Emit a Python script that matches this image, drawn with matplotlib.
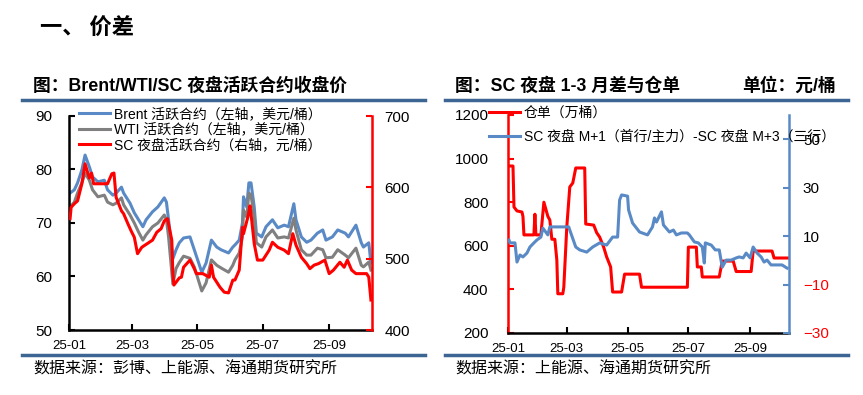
import matplotlib
matplotlib.use('Agg')
import matplotlib.pyplot as plt
import matplotlib.dates as mdates
from matplotlib.lines import Line2D
import pandas as pd

plt.rcParams['font.family'] = ['Liberation Sans', 'Noto Sans CJK SC']
plt.rcParams['axes.unicode_minus'] = True

# ---- 左图：Brent / WTI / SC 收盘价 ----
oil_dates = ['2025-01-02', '2025-01-06', '2025-01-09', '2025-01-13', '2025-01-16', '2025-01-20',
             '2025-01-23', '2025-01-28', '2025-02-03', '2025-02-06', '2025-02-11', '2025-02-14',
             '2025-02-19', '2025-02-21', '2025-02-27', '2025-03-03', '2025-03-07', '2025-03-11',
             '2025-03-14', '2025-03-20', '2025-03-25', '2025-03-31', '2025-04-02', '2025-04-04',
             '2025-04-08', '2025-04-11', '2025-04-14', '2025-04-18', '2025-04-24', '2025-04-28',
             '2025-05-05', '2025-05-09', '2025-05-14', '2025-05-19', '2025-05-23', '2025-05-30',
             '2025-06-03', '2025-06-05', '2025-06-09', '2025-06-12', '2025-06-13', '2025-06-16',
             '2025-06-18', '2025-06-20', '2025-06-23', '2025-06-25', '2025-06-30', '2025-07-04',
             '2025-07-10', '2025-07-15', '2025-07-21', '2025-07-25', '2025-07-30', '2025-08-01',
             '2025-08-06', '2025-08-11', '2025-08-15', '2025-08-21', '2025-08-26', '2025-08-29',
             '2025-09-04', '2025-09-09', '2025-09-16', '2025-09-19', '2025-09-26', '2025-10-01',
             '2025-10-03', '2025-10-08', '2025-10-10']
brent = [75.6, 76.2, 77.5, 79.9, 82.7, 80.5, 78.6, 77.7, 78.0, 76.2, 75.2, 75.6,
         76.7, 75.6, 73.7, 71.9, 70.6, 69.3, 70.6, 72.1, 73.0, 74.7, 73.9, 70.6,
         63.3, 65.0, 66.3, 67.2, 67.4, 65.0, 60.8, 62.5, 66.8, 65.5, 65.0, 64.4,
         65.5, 65.9, 66.8, 70.0, 74.9, 73.0, 77.5, 77.5, 73.0, 68.1, 67.4, 69.3,
         70.6, 69.1, 69.6, 69.3, 73.6, 70.6, 67.4, 66.4, 66.8, 68.1, 68.7, 66.8,
         67.4, 68.7, 68.1, 67.4, 69.6, 66.3, 65.5, 66.3, 62.5]
wti = [73.0, 73.9, 75.6, 77.5, 79.3, 78.0, 76.2, 74.9, 75.2, 73.9, 73.4, 73.7,
       74.7, 73.4, 71.5, 70.0, 68.3, 66.8, 67.8, 69.3, 70.0, 71.5, 70.6, 67.4,
       58.6, 61.5, 62.6, 63.8, 63.4, 61.8, 57.3, 58.8, 63.1, 62.1, 61.6, 60.8,
       62.1, 63.1, 64.4, 67.4, 72.4, 71.1, 75.6, 75.2, 71.1, 66.3, 65.5, 67.4,
       68.7, 67.2, 67.4, 67.2, 70.9, 68.7, 65.0, 64.0, 64.0, 65.3, 65.0, 63.5,
       63.6, 65.0, 64.0, 63.5, 65.3, 62.1, 61.8, 62.7, 61.2]

sc_dates = ['2025-01-02', '2025-01-03', '2025-01-06', '2025-01-09', '2025-01-13', '2025-01-16',
            '2025-01-20', '2025-01-22', '2025-01-24', '2025-02-06', '2025-02-10', '2025-02-12',
            '2025-02-14', '2025-02-19', '2025-02-21', '2025-02-25', '2025-02-28', '2025-03-03',
            '2025-03-06', '2025-03-10', '2025-03-17', '2025-03-20', '2025-03-24', '2025-03-28',
            '2025-03-31', '2025-04-03', '2025-04-07', '2025-04-08', '2025-04-09', '2025-04-14',
            '2025-04-16', '2025-04-18', '2025-04-24', '2025-04-28', '2025-04-30', '2025-05-06',
            '2025-05-12', '2025-05-14', '2025-05-16', '2025-05-22', '2025-05-26', '2025-05-30',
            '2025-06-03', '2025-06-05', '2025-06-09', '2025-06-12', '2025-06-13', '2025-06-17',
            '2025-06-19', '2025-06-20', '2025-06-23', '2025-06-26', '2025-07-01', '2025-07-07',
            '2025-07-10', '2025-07-15', '2025-07-21', '2025-07-25', '2025-07-29', '2025-08-01',
            '2025-08-06', '2025-08-11', '2025-08-14', '2025-08-18', '2025-08-22', '2025-08-28',
            '2025-09-01', '2025-09-05', '2025-09-11', '2025-09-15', '2025-09-18', '2025-09-22',
            '2025-09-26', '2025-10-01', '2025-10-06', '2025-10-08', '2025-10-10']
sc = [556, 572, 577, 581, 605, 633, 613, 620, 605, 605, 619, 620,
      586, 567, 563, 549, 539, 530, 507, 516, 523, 526, 537, 542,
      553, 556, 526, 479, 463, 473, 474, 488, 498, 486, 479, 479,
      474, 491, 474, 460, 453, 452, 470, 470, 484, 544, 535, 558,
      574, 563, 521, 498, 498, 512, 523, 516, 512, 507, 535, 519,
      502, 493, 486, 491, 493, 498, 479, 484, 495, 488, 498, 484,
      479, 479, 479, 474, 442]

# ---- 右图：仓单 与 M+1 - M+3 月差 ----
cangdan_dates = ['2025-01-02', '2025-01-06', '2025-01-07', '2025-01-10', '2025-01-15', '2025-01-16',
                 '2025-01-17', '2025-01-27', '2025-01-28', '2025-01-29', '2025-02-03', '2025-02-06',
                 '2025-02-10', '2025-02-12', '2025-02-14', '2025-02-17', '2025-02-19', '2025-02-20',
                 '2025-02-25', '2025-02-26', '2025-03-01', '2025-03-04', '2025-03-07', '2025-03-10',
                 '2025-03-19', '2025-03-20', '2025-03-28', '2025-03-31', '2025-04-03', '2025-04-07',
                 '2025-04-10', '2025-04-14', '2025-04-16', '2025-04-25', '2025-04-28', '2025-05-13',
                 '2025-05-15', '2025-06-30', '2025-07-01', '2025-07-09', '2025-07-10', '2025-07-14',
                 '2025-07-15', '2025-08-01', '2025-08-04', '2025-08-15', '2025-08-18', '2025-09-02',
                 '2025-09-04', '2025-09-23', '2025-09-25', '2025-10-10']
cangdan = [966, 966, 778, 760, 755, 735, 650, 650, 745, 650, 650, 800,
           735, 718, 630, 630, 535, 380, 380, 410, 686, 870, 888, 957,
           957, 700, 695, 660, 640, 594, 549, 503, 388, 388, 470, 470,
           410, 410, 594, 594, 503, 503, 457, 457, 530, 530, 482, 482,
           576, 576, 544, 544]

spread_dates = ['2025-01-02', '2025-01-03', '2025-01-08', '2025-01-10', '2025-01-13', '2025-01-16',
                '2025-01-20', '2025-01-23', '2025-01-27', '2025-01-30', '2025-02-03', '2025-02-05',
                '2025-02-10', '2025-02-12', '2025-03-03', '2025-03-04', '2025-03-10', '2025-03-14',
                '2025-03-21', '2025-03-27', '2025-04-03', '2025-04-10', '2025-04-16', '2025-04-21',
                '2025-04-23', '2025-04-25', '2025-05-01', '2025-05-02', '2025-05-06', '2025-05-13',
                '2025-05-21', '2025-05-26', '2025-05-28', '2025-05-30', '2025-06-04', '2025-06-06',
                '2025-06-12', '2025-06-16', '2025-06-19', '2025-06-24', '2025-06-30', '2025-07-02',
                '2025-07-07', '2025-07-11', '2025-07-15', '2025-07-17', '2025-07-18', '2025-07-24',
                '2025-07-28', '2025-08-01', '2025-08-04', '2025-08-08', '2025-08-13', '2025-08-18',
                '2025-08-21', '2025-08-25', '2025-08-28', '2025-09-01', '2025-09-04', '2025-09-08',
                '2025-09-12', '2025-09-15', '2025-09-18', '2025-09-22', '2025-10-03', '2025-10-08']
spread = [8.4, 7.2, 7.2, -0.7, 2.2, 1.4, 3.0, 5.5, 7.2, 8.4, 9.6, 13.3,
          10.5, 13.8, 13.8, 12.5, 5.5, 4.3, 3.4, 5.5, 7.2, 6.3, 9.6, 9.6,
          24.9, 27.0, 26.5, 20.8, 15.4, 11.7, 10.5, 13.8, 17.5, 15.8, 20.0, 14.6,
          11.7, 12.5, 10.5, 11.3, 11.3, 10.5, 7.6, 7.2, 5.5, -1.1, 7.2, 6.3,
          4.3, 4.3, -2.8, 0.1, 0.1, 1.0, 1.4, 1.0, 3.0, 1.0, 5.5, 3.0,
          1.4, -0.7, 0.1, -1.9, -1.9, -3.2]

W, H = 863, 395
BLUE = '#5a8ac6'
GRAY = '#808080'
RED = '#ff0000'
BAR = '#3d6594'


def fx(px):
    return px / W


def fy(py):
    return 1 - py / H


fig = plt.figure(figsize=(W / 100, H / 100), dpi=100)

# 标题与分隔线
fig.text(fx(40), fy(28), '一、 价差', fontsize=16, fontweight='bold', va='center',
         family=['Noto Sans CJK SC'])
fig.text(fx(33), fy(86), '图：Brent/WTI/SC 夜盘活跃合约收盘价', fontsize=12.8,
         fontweight='bold', va='center')
fig.text(fx(455), fy(86), '图：SC 夜盘 1-3 月差与仓单', fontsize=12.8,
         fontweight='bold', va='center')
fig.text(fx(836), fy(86), '单位：元/桶', fontsize=12.8, fontweight='bold', va='center', ha='right')
fig.text(fx(33), fy(369), '数据来源：彭博、上能源、海通期货研究所', fontsize=11.5, va='center')
fig.text(fx(455), fy(369), '数据来源：上能源、海通期货研究所', fontsize=11.5, va='center')
for x0, x1 in [(22, 425), (445, 848)]:
    for yy in [100, 355]:
        fig.add_artist(Line2D([fx(x0), fx(x1)], [fy(yy), fy(yy)], color=BAR, lw=2.5,
                              transform=fig.transFigure))

# ---- 左图 ----
ax1 = fig.add_axes([fx(69), fy(330), fx(372) - fx(69), fy(116) - fy(330)])
l1, = ax1.plot(pd.to_datetime(oil_dates), brent, color=BLUE, lw=2.2,
               label='Brent 活跃合约（左轴，美元/桶）')
l2, = ax1.plot(pd.to_datetime(oil_dates), wti, color=GRAY, lw=2.2,
               label='WTI 活跃合约（左轴，美元/桶）')
ax1.set_ylim(50, 90)
ax1.set_yticks(range(50, 91, 10))
ax1b = ax1.twinx()
l3, = ax1b.plot(pd.to_datetime(sc_dates), sc, color=RED, lw=2.2,
                label='SC 夜盘活跃合约（右轴，元/桶）')
ax1b.set_ylim(400, 700)
ax1b.set_yticks(range(400, 701, 100))
ax1.set_xlim(pd.Timestamp('2025-01-01'), pd.Timestamp('2025-10-11'))

for a in (ax1, ax1b):
    a.spines['top'].set_visible(False)
ax1.spines['right'].set_visible(False)
ax1b.spines['left'].set_visible(False)
ax1b.spines['bottom'].set_visible(False)
ax1.spines['left'].set_linewidth(1.8)
ax1.spines['bottom'].set_linewidth(1.8)
ax1b.spines['right'].set_color(RED)
ax1b.spines['right'].set_linewidth(1.8)
ax1.tick_params(axis='y', direction='in', length=4, width=1.5, labelsize=11, pad=12)
ax1.tick_params(axis='x', direction='in', length=4, width=1.5, labelsize=9.5, pad=7)
ax1b.tick_params(axis='y', direction='in', length=4, width=1.5, color=RED, labelsize=11, pad=9)

leg1 = ax1b.legend(handles=[l1, l2, l3], loc='upper left', bbox_to_anchor=(fx(79), fy(107)),
                   bbox_transform=fig.transFigure, frameon=False, fontsize=10,
                   handlelength=2.2, handletextpad=0.3, labelspacing=0.1,
                   borderpad=0, borderaxespad=0)

# ---- 右图 ----
ax2 = fig.add_axes([fx(508), fy(333), fx(789) - fx(508), fy(115) - fy(333)])
r1, = ax2.plot(pd.to_datetime(cangdan_dates), cangdan, color=RED, lw=2.2, label='仓单（万桶）')
ax2.set_ylim(200, 1200)
ax2.set_yticks(range(200, 1201, 200))
ax2b = ax2.twinx()
r2, = ax2b.plot(pd.to_datetime(spread_dates), spread, color=BLUE, lw=2.2,
                label='SC 夜盘 M+1（首行/主力）-SC 夜盘 M+3（三行）')
ax2b.set_ylim(-30, 60)
ax2b.set_yticks([-30, -10, 10, 30, 50])
ax2.set_xlim(pd.Timestamp('2025-01-01'), pd.Timestamp('2025-10-10'))

for a in (ax2, ax2b):
    a.spines['top'].set_visible(False)
ax2.spines['right'].set_visible(False)
ax2b.spines['left'].set_visible(False)
ax2b.spines['bottom'].set_visible(False)
ax2.spines['left'].set_color(RED)
ax2.spines['left'].set_linewidth(1.8)
ax2.spines['bottom'].set_linewidth(1.8)
ax2b.spines['right'].set_color(BLUE)
ax2b.spines['right'].set_linewidth(1.8)
ax2.tick_params(axis='y', direction='in', length=4, width=1.5, color=RED, labelsize=11, pad=14)
ax2.tick_params(axis='x', direction='in', length=4, width=1.5, labelsize=9.5, pad=7)
ax2b.tick_params(axis='y', direction='in', length=4, width=1.5, color=BLUE, labelsize=11, pad=10)
for v, lab in zip([-30, -10, 10, 30, 50], ax2b.get_yticklabels()):
    if v < 0:
        lab.set_color(RED)

leg2 = ax2b.legend(handles=[r1, r2], loc='upper left', bbox_to_anchor=(fx(489), fy(106)),
                   bbox_transform=fig.transFigure, frameon=False, fontsize=10,
                   handlelength=2.2, handletextpad=0.3, labelspacing=0.7,
                   borderpad=0, borderaxespad=0)

for a in (ax1, ax2):
    a.xaxis.set_major_locator(mdates.MonthLocator(bymonth=[1, 3, 5, 7, 9]))
    a.xaxis.set_major_formatter(mdates.DateFormatter('%y-%m'))

fig.savefig('out.png', dpi=100)
